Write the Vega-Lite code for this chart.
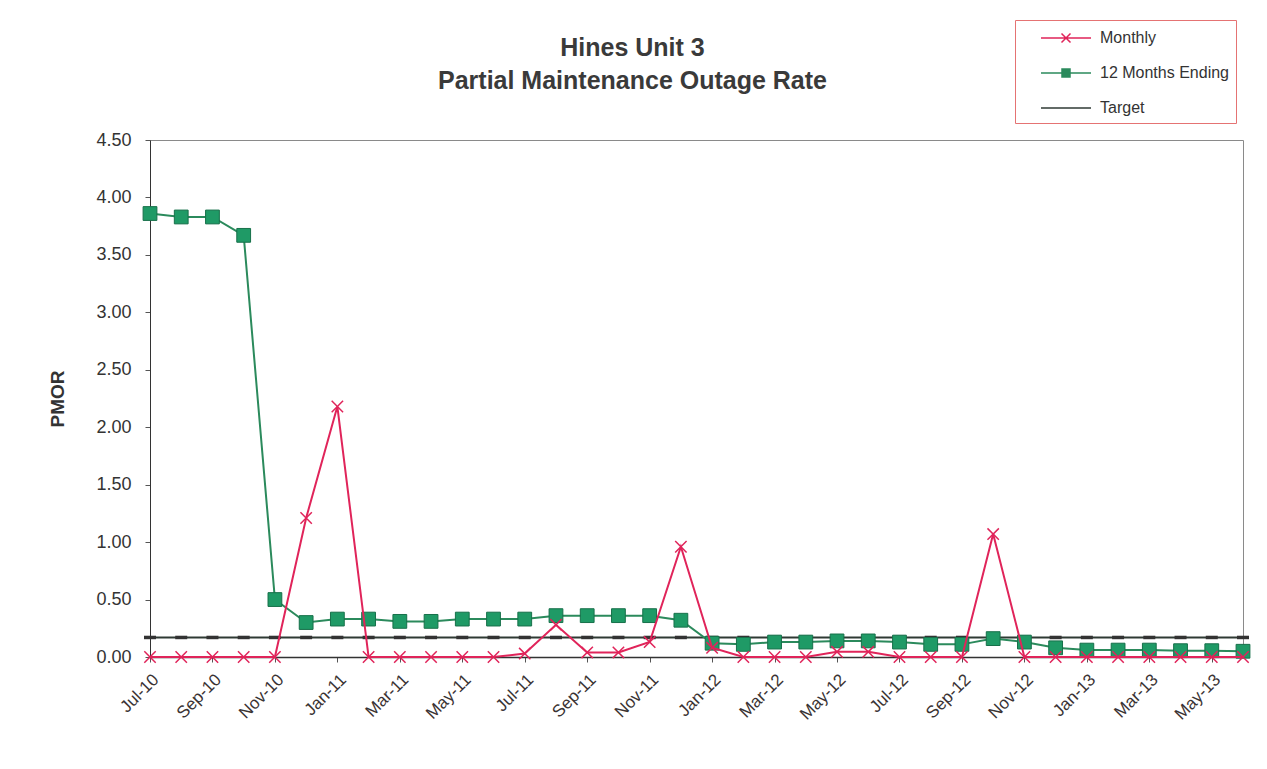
{
  "$schema": "https://vega.github.io/schema/vega-lite/v6.json",
  "width": 1093,
  "height": 517,
  "autosize": "none",
  "padding": {"left": 150, "top": 140, "right": 24, "bottom": 112},
  "background": "white",
  "config": {
    "font": "Liberation Sans",
    "view": {"stroke": "#8a8a8a", "strokeWidth": 1}
  },
  "title": {
    "text": ["Hines Unit 3", "Partial Maintenance Outage Rate"],
    "fontSize": 25,
    "fontWeight": "bold",
    "color": "#3a3a3a",
    "font": "Liberation Sans",
    "lineHeight": 33,
    "anchor": "middle",
    "dx": -64,
    "offset": -74
  },
  "data": {
    "values": [
      {"month": "Jul-10", "monthly": 0, "ending": 3.86, "target": 0.17},
      {"month": "Aug-10", "monthly": 0, "ending": 3.83, "target": 0.17},
      {"month": "Sep-10", "monthly": 0, "ending": 3.83, "target": 0.17},
      {"month": "Oct-10", "monthly": 0, "ending": 3.67, "target": 0.17},
      {"month": "Nov-10", "monthly": 0, "ending": 0.50, "target": 0.17},
      {"month": "Dec-10", "monthly": 1.21, "ending": 0.30, "target": 0.17},
      {"month": "Jan-11", "monthly": 2.18, "ending": 0.33, "target": 0.17},
      {"month": "Feb-11", "monthly": 0, "ending": 0.33, "target": 0.17},
      {"month": "Mar-11", "monthly": 0, "ending": 0.31, "target": 0.17},
      {"month": "Apr-11", "monthly": 0, "ending": 0.31, "target": 0.17},
      {"month": "May-11", "monthly": 0, "ending": 0.33, "target": 0.17},
      {"month": "Jun-11", "monthly": 0, "ending": 0.33, "target": 0.17},
      {"month": "Jul-11", "monthly": 0.03, "ending": 0.33, "target": 0.17},
      {"month": "Aug-11", "monthly": 0.28, "ending": 0.36, "target": 0.17},
      {"month": "Sep-11", "monthly": 0.04, "ending": 0.36, "target": 0.17},
      {"month": "Oct-11", "monthly": 0.04, "ending": 0.36, "target": 0.17},
      {"month": "Nov-11", "monthly": 0.13, "ending": 0.36, "target": 0.17},
      {"month": "Dec-11", "monthly": 0.96, "ending": 0.32, "target": 0.17},
      {"month": "Jan-12", "monthly": 0.08, "ending": 0.12, "target": 0.17},
      {"month": "Feb-12", "monthly": 0, "ending": 0.11, "target": 0.17},
      {"month": "Mar-12", "monthly": 0, "ending": 0.13, "target": 0.17},
      {"month": "Apr-12", "monthly": 0, "ending": 0.13, "target": 0.17},
      {"month": "May-12", "monthly": 0.045, "ending": 0.14, "target": 0.17},
      {"month": "Jun-12", "monthly": 0.045, "ending": 0.14, "target": 0.17},
      {"month": "Jul-12", "monthly": 0, "ending": 0.13, "target": 0.17},
      {"month": "Aug-12", "monthly": 0, "ending": 0.11, "target": 0.17},
      {"month": "Sep-12", "monthly": 0, "ending": 0.11, "target": 0.17},
      {"month": "Oct-12", "monthly": 1.07, "ending": 0.16, "target": 0.17},
      {"month": "Nov-12", "monthly": 0, "ending": 0.13, "target": 0.17},
      {"month": "Dec-12", "monthly": 0, "ending": 0.08, "target": 0.17},
      {"month": "Jan-13", "monthly": 0, "ending": 0.06, "target": 0.17},
      {"month": "Feb-13", "monthly": 0, "ending": 0.06, "target": 0.17},
      {"month": "Mar-13", "monthly": 0, "ending": 0.06, "target": 0.17},
      {"month": "Apr-13", "monthly": 0, "ending": 0.055, "target": 0.17},
      {"month": "May-13", "monthly": 0, "ending": 0.055, "target": 0.17},
      {"month": "Jun-13", "monthly": 0, "ending": 0.05, "target": 0.17}
    ]
  },
  "encoding": {
    "x": {
      "field": "month",
      "type": "ordinal",
      "sort": null,
      "scale": {"type": "point", "padding": 0},
      "axis": {
        "title": null,
        "values": ["Jul-10", "Sep-10", "Nov-10", "Jan-11", "Mar-11", "May-11", "Jul-11", "Sep-11", "Nov-11", "Jan-12", "Mar-12", "May-12", "Jul-12", "Sep-12", "Nov-12", "Jan-13", "Mar-13", "May-13"],
        "labelAngle": -45,
        "labelAlign": "right",
        "labelBaseline": "top",
        "labelFontSize": 17,
        "labelColor": "#3a3333",
        "labelPadding": 9,
        "tickSize": 5,
        "tickColor": "#555555",
        "domainColor": "#333333",
        "domainWidth": 1.5,
        "grid": false
      }
    }
  },
  "layer": [
    {
      "mark": {"type": "line", "strokeWidth": 2},
      "encoding": {
        "y": {
          "field": "target", "type": "quantitative",
          "scale": {"domain": [0, 4.5], "nice": false, "zero": true},
          "axis": {"title": "PMOR", "values": [0, 0.5, 1, 1.5, 2, 2.5, 3, 3.5, 4, 4.5], "format": ".2f", "labelFontSize": 18, "labelColor": "#333333", "labelPadding": 14, "tickSize": 5, "tickColor": "#555555", "domainColor": "#333333", "titleFontSize": 19, "titleFontWeight": "bold", "titleColor": "#333333", "titlePadding": 28, "grid": false}
        },
        "color": {
          "datum": "Target",
          "scale": {"domain": ["Monthly", "12 Months Ending", "Target"], "range": ["#e0245a", "#2b8a5c", "#2f3a34"]},
          "legend": {
            "title": null, "orient": "none", "legendX": 865, "legendY": -120,
            "strokeColor": "#e57373", "fillColor": "white", "padding": 7,
            "labelFontSize": 16, "labelColor": "#333333", "labelOffset": 23,
            "symbolSize": 400, "symbolOffset": 33, "rowPadding": 16,
            "encode": {"symbols": {"update": {
              "shape": {"signal": "datum.value === 'Monthly' ? 'M-2.5,0H2.5M-0.45,-0.45L0.45,0.45M-0.45,0.45L0.45,-0.45' : datum.value === '12 Months Ending' ? 'M-2.5,0H2.5M-0.4,-0.4H0.4V0.4H-0.4Z' : 'M-2.5,0H2.5'"},
              "stroke": {"signal": "scale('color', datum.value)"},
              "fill": {"signal": "scale('color', datum.value)"},
              "strokeWidth": {"value": 1.5}
            }}}
          }
        }
      }
    },
    {
      "mark": {"type": "point", "shape": "M-1,0H1", "filled": false, "color": "#333333", "strokeWidth": 3.5, "size": 144, "opacity": 1},
      "encoding": {
        "y": {"field": "target", "type": "quantitative"}
      }
    },
    {
      "mark": {"type": "line", "strokeWidth": 2},
      "encoding": {
        "y": {"field": "ending", "type": "quantitative"},
        "color": {"datum": "12 Months Ending"}
      }
    },
    {
      "mark": {"type": "point", "shape": "square", "filled": true, "fill": "#1f9a66", "stroke": "#17704a", "strokeWidth": 1, "size": 190, "opacity": 1},
      "encoding": {
        "y": {"field": "ending", "type": "quantitative"}
      }
    },
    {
      "mark": {"type": "line", "strokeWidth": 2},
      "encoding": {
        "y": {"field": "monthly", "type": "quantitative"},
        "color": {"datum": "Monthly"}
      }
    },
    {
      "mark": {"type": "point", "shape": "M-1,-1L1,1M-1,1L1,-1", "filled": false, "color": "#e0245a", "strokeWidth": 1.5, "size": 130, "opacity": 1},
      "encoding": {
        "y": {"field": "monthly", "type": "quantitative"}
      }
    }
  ]
}
